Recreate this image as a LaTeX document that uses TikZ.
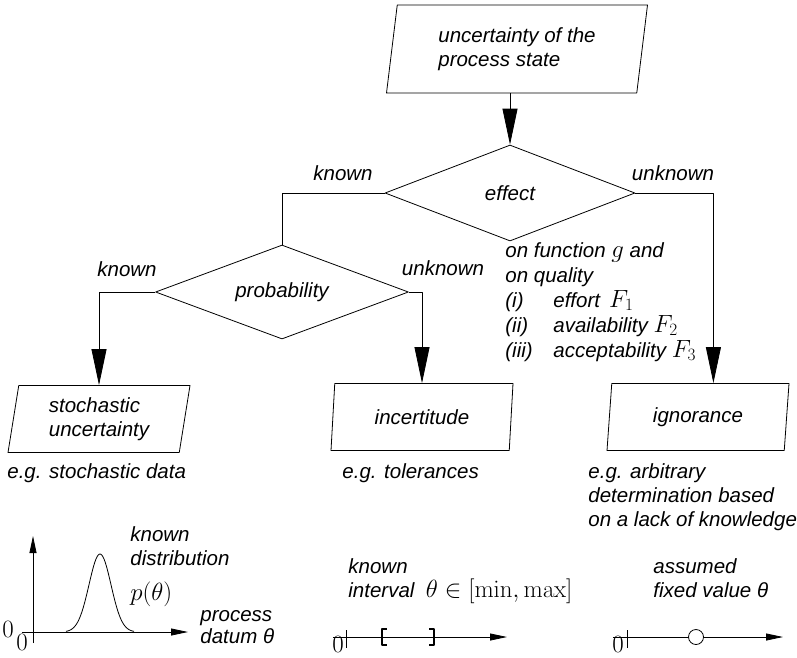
\documentclass[tikz,border=0pt]{standalone}
\usepackage[no-math]{fontspec}
\setmainfont{Liberation Sans}
\usetikzlibrary{shapes.geometric,arrows.meta,calc}

\newcommand\mathlbl[1]{{\fontsize{23}{24}\selectfont$#1$}}

\tikzset{
  io/.style={draw, trapezium, trapezium left angle=76, trapezium right angle=104,
    trapezium stretches body, minimum width=182pt, minimum height=67pt, inner sep=0pt, align=left},
  decision/.style={draw, diamond, aspect=2.6, inner sep=0pt, minimum width=250pt, minimum height=96pt},
  axis/.style={-{Triangle[length=17pt,width=7pt]}},
  bracket/.style={line width=2.2pt, line cap=butt},
  lbl/.style={anchor=base west, inner sep=0pt, align=left},
  zero/.style={inner sep=0pt}
}

\begin{document}
\begin{tikzpicture}[x=1pt, y=-1pt, line width=0.8pt, line join=round,
    font=\fontsize{20.5}{24}\selectfont\itshape,
    >={Triangle[length=36pt,width=15pt]}]
  \useasboundingbox (0,0) rectangle (797,657);

  % flow chart
  \node[io, minimum width=261pt, minimum height=88pt] (state) at (517,49) {uncertainty of the\\process state};
  \node[decision] (effect) at (510,193) {effect};
  \node[decision, minimum width=253pt, minimum height=94pt] (prob) at (282,292) {probability};
  \node[io] (stoch) at (99,419) {stochastic\\uncertainty};
  \node[io] (incert) at (422,417) {incertitude};
  \node[io] (ignor) at (698,417) {ignorance};

  \draw[->] (state.south -| effect.north) -- (effect.north);
  \draw (effect.west) -| (prob.north);
  \draw[->] (effect.east) -- ++(78,0) coordinate (bend) -- (bend |- ignor.north);
  \draw[->] (prob.west) -| (stoch.north);
  \draw[->] (prob.east) -| (incert.north);

  \node[anchor=base, inner sep=0pt] (effknown) at (343,180) {known};
  \node[anchor=base, inner sep=0pt] (effunknown) at (673,180) {unknown};
  \node[anchor=base, inner sep=0pt] (probknown) at (127,276) {known};
  \node[anchor=base, inner sep=0pt] (probunknown) at (443,275) {unknown};
  % base of a multi-line node = its last line
  \node[lbl, font=\fontsize{20.5}{25}\selectfont\itshape] (note) at (505,357) {on function \mathlbl{g} and\\on quality\\
    \makebox[48pt][l]{(i)}effort\ \,\mathlbl{F_1}\\
    \makebox[48pt][l]{(ii)}availability \mathlbl{F_2}\\
    \makebox[48pt][l]{(iii)}acceptability \mathlbl{F_3}};

  % examples
  \node[lbl] (capstoch) at (7,478) {e.g. stochastic data};
  \node[lbl] (capincert) at (342,478) {e.g. tolerances};
  \node[lbl] (capignor) at (588,526) {e.g. arbitrary\\determination based\\on a lack of knowledge};

  % known distribution
  \draw[axis] (22,632) -- (188,632);
  \draw[axis] (33,643) -- (33,536);
  \draw[smooth, samples=60, domain=66:134] plot (\x, {632-78*exp(-((\x-100)^2)/(2*11*11))});
  \node[zero] (zeroa) at (8,629) {\mathlbl{0}};
  \node[zero] (zerob) at (22,642) {\mathlbl{0}};
  \node[lbl] (distlbl) at (130,565) {known\\distribution};
  \node[lbl] (plbl) at (130,600) {\mathlbl{p(\theta)}};
  \node[lbl, font=\fontsize{20.5}{22}\selectfont\itshape] (datumlbl) at (200,643) {process\\datum θ};

  % known interval
  \draw[axis] (333,637) -- (507,637);
  \draw (346,630) -- (346,648);
  \draw[bracket] (387,629) -| (382,645) -- (387,645);
  \draw[bracket] (429,629) -| (434,645) -- (429,645);
  \node[zero] (zeroc) at (338,644) {\mathlbl{0}};
  \node[lbl] (intlbl) at (348,597) {known\\interval\ \ \mathlbl{\theta\in[\min,\max]}};

  % assumed fixed value
  \draw[axis] (613,637) -- (783,637);
  \draw (627,630) -- (627,648);
  \draw[fill=white] (696,637) circle[radius=7.5pt];
  \node[zero] (zerod) at (618,644) {\mathlbl{0}};
  \node[lbl] (fixlbl) at (653,597) {assumed\\fixed value θ};
\end{tikzpicture}
\end{document}
